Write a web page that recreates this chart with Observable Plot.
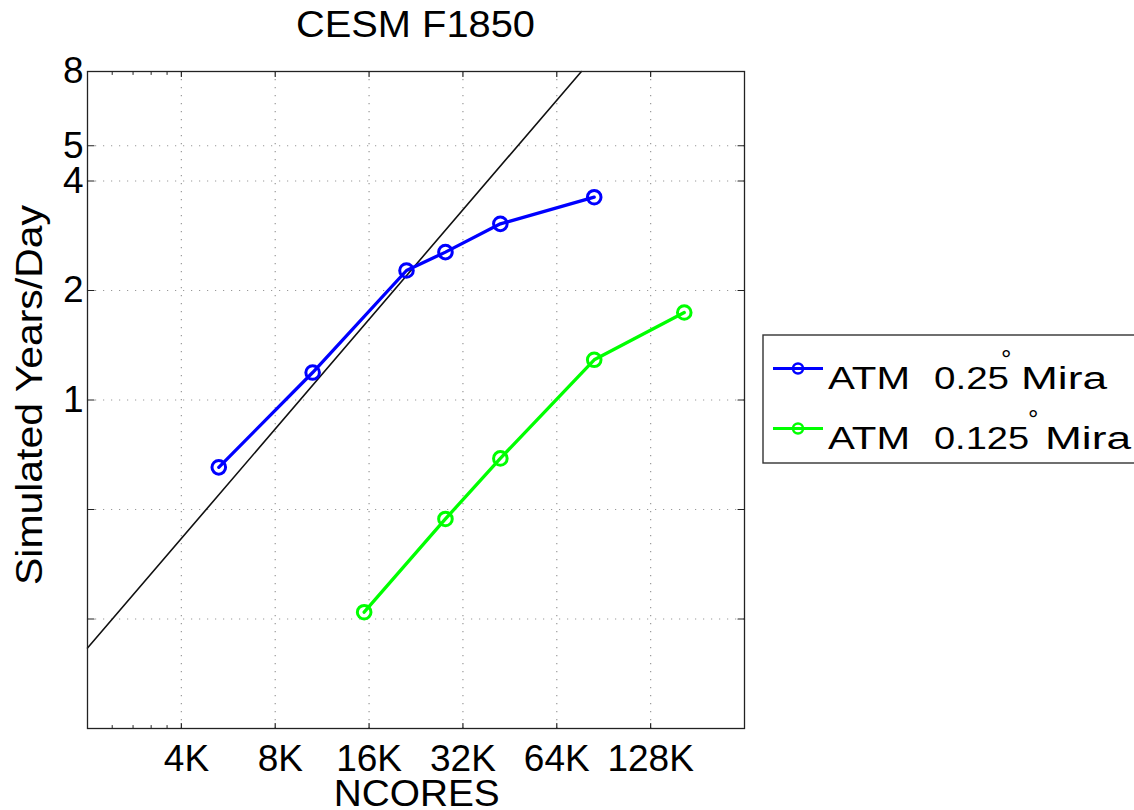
<!DOCTYPE html>
<html><head><meta charset="utf-8">
<script src="https://cdn.jsdelivr.net/npm/d3@7"></script>
<script src="https://cdn.jsdelivr.net/npm/@observablehq/plot@0.6"></script>
<style>
html,body{margin:0;padding:0;background:#fff;}
#chart{position:relative;width:1134px;height:810px;overflow:hidden;background:#fff;}
svg text{white-space:pre;}
</style></head><body><div id="chart"></div>
<script>
// ---- text ----
const chartTitle = "CESM F1850";
const xLabel = "NCORES";
const yLabel = "Simulated Years/Day";

// ---- axes ----
const xDomain = [2048, 262144];
const yDomain = [0.125, 8];
const xTicks = [4096, 8192, 16384, 32768, 65536, 131072];
const xTickLabels = [" 4K", " 8K", "16K", "32K", "64K", "128K"];
const xMinorTicks = [2458, 2867, 3277, 3686];
const yTicks = [0.25, 0.5, 1, 2, 4, 5, 8];
const yTickLabels = ["", "", "1", "2", "4", "5", "8"];

// ---- series ----
const seriesModel = "ATM";
const seriesRes = ["0.25", "0.125"];
const seriesMachine = "Mira";
const seriesNames = ["ATM  0.25° Mira", "ATM  0.125° Mira"];
const seriesColors = ["#0000ff", "#00ff00"];

const atm025Cores = [5400, 10800, 21600, 28800, 43200, 86400];
const atm025Sypd  = [0.653, 1.19, 2.27, 2.55, 3.05, 3.61];
const atm0125Cores = [15800, 28800, 43200, 86400, 168000];
const atm0125Sypd  = [0.261, 0.471, 0.691, 1.29, 1.74];

// ideal (linear) scaling reference line
const idealCores = [2048, 78600];
const idealSypd  = [0.208, 8];

// ---- build tables ----
const data = [
  ...atm025Cores.map((c, i) => ({series: seriesNames[0], cores: c, sypd: atm025Sypd[i]})),
  ...atm0125Cores.map((c, i) => ({series: seriesNames[1], cores: c, sypd: atm0125Sypd[i]}))
];
const ideal = idealCores.map((c, i) => ({cores: c, sypd: idealSypd[i]}));
const xLabelMap = new Map(xTicks.map((t, i) => [t, xTickLabels[i]]));
const yLabelMap = new Map(yTicks.map((t, i) => [t, yTickLabels[i]]));

const FONT = "'Liberation Sans', Arial, Helvetica, sans-serif";
const axisColor = "#222";
const gridStyle = {stroke: "#999", strokeOpacity: 1, strokeWidth: 1.2, strokeDasharray: "1.2,6.8"};
const tickShape = {draw(context, l) { context.moveTo(0, 0); context.lineTo(0, -l); }};

const plot = Plot.plot({
  width: 1134,
  height: 810,
  marginLeft: 87,
  marginRight: 390,
  marginTop: 71,
  marginBottom: 82,
  style: {fontFamily: FONT, fontSize: "37px", background: "white", color: "#000", overflow: "visible"},
  x: {type: "log", base: 2, domain: xDomain},
  y: {type: "log", base: 2, domain: yDomain},
  color: {domain: seriesNames, range: seriesColors},
  marks: [
    Plot.gridX(xTicks, gridStyle),
    Plot.gridY(yTicks.filter(v => v < yDomain[1]), gridStyle),
    Plot.line(ideal, {x: "cores", y: "sypd", stroke: "#111", strokeWidth: 1.6}),
    Plot.line(data, {x: "cores", y: "sypd", z: "series", stroke: "series", strokeWidth: 3.3}),
    Plot.dot(data, {x: "cores", y: "sypd", stroke: "series", r: 6.8, strokeWidth: 3, fill: "none"}),
    // inward ticks on all four sides
    Plot.vector(xTicks, {x: d => d, frameAnchor: "bottom", length: 5, rotate: 0, anchor: "start", shape: tickShape, stroke: axisColor, strokeWidth: 1.2}),
    Plot.vector(xTicks, {x: d => d, frameAnchor: "top", length: 5, rotate: 180, anchor: "start", shape: tickShape, stroke: axisColor, strokeWidth: 1.2}),
    Plot.vector(xMinorTicks, {x: d => d, frameAnchor: "bottom", length: 3, rotate: 0, anchor: "start", shape: tickShape, stroke: axisColor, strokeWidth: 1}),
    Plot.vector(xMinorTicks, {x: d => d, frameAnchor: "top", length: 3, rotate: 180, anchor: "start", shape: tickShape, stroke: axisColor, strokeWidth: 1}),
    Plot.vector(yTicks, {y: d => d, frameAnchor: "left", length: 6.5, rotate: 90, anchor: "start", shape: tickShape, stroke: axisColor, strokeWidth: 1.2}),
    Plot.vector(yTicks, {y: d => d, frameAnchor: "right", length: 6.5, rotate: -90, anchor: "start", shape: tickShape, stroke: axisColor, strokeWidth: 1.2}),
    Plot.frame({stroke: axisColor, strokeWidth: 1.3}),
    Plot.axisX(xTicks, {anchor: "bottom", tickSize: 0, tickPadding: 16, tickFormat: d => xLabelMap.get(d), label: null, fontSize: 37, fill: "#000"}),
    Plot.axisY(yTicks, {anchor: "left", tickSize: 0, tickPadding: 4, tickFormat: d => yLabelMap.get(d), label: null, fontSize: 37, fill: "#000"})
  ]
});

document.getElementById("chart").appendChild(plot);
const svg = d3.select(plot);

function addText(g, s, {x = 0, y = 0, size = 37, anchor = "start", length = null, transform = null} = {}) {
  const t = g.append("text")
    .attr("x", x).attr("y", y)
    .attr("font-family", FONT)
    .attr("font-size", size)
    .attr("fill", "#000")
    .attr("text-anchor", anchor)
    .text(s);
  if (transform) t.attr("transform", transform);
  if (length) t.attr("textLength", length).attr("lengthAdjust", "spacingAndGlyphs");
  return t;
}

const over = svg.append("g");
// title and axis labels
addText(over, chartTitle, {x: 415.5, y: 37, size: 36, anchor: "middle", length: 239});
addText(over, xLabel, {x: 416.7, y: 806, size: 37, anchor: "middle", length: 166});
addText(over, yLabel, {size: 37, anchor: "middle", length: 380, transform: "translate(41.7,395) rotate(-90)"});

// legend
const lg = svg.append("g");
lg.append("rect").attr("x", 763).attr("y", 335).attr("width", 400).attr("height", 128)
  .attr("fill", "white").attr("stroke", "#333").attr("stroke-width", 1.4);
const rowY = [368.5, 428.5];
const resLen = [75, 95];
const degX = [1001, 1028];
const machineX = [1021, 1045];
seriesNames.forEach((name, i) => {
  const y = rowY[i];
  lg.append("line").attr("x1", 773).attr("x2", 823).attr("y1", y).attr("y2", y)
    .attr("stroke", seriesColors[i]).attr("stroke-width", 3);
  lg.append("circle").attr("cx", 798).attr("cy", y).attr("r", 5).attr("fill", "none")
    .attr("stroke", seriesColors[i]).attr("stroke-width", 2.5);
  const base = y + 20;
  addText(lg, seriesModel, {x: 828, y: base, size: 31, length: 82});
  addText(lg, seriesRes[i], {x: 934, y: base, size: 31, length: resLen[i]});
  addText(lg, "°", {x: degX[i], y: base - 21, size: 26});
  addText(lg, seriesMachine, {x: machineX[i], y: base, size: 31, length: 86});
});
</script>
</body></html>
